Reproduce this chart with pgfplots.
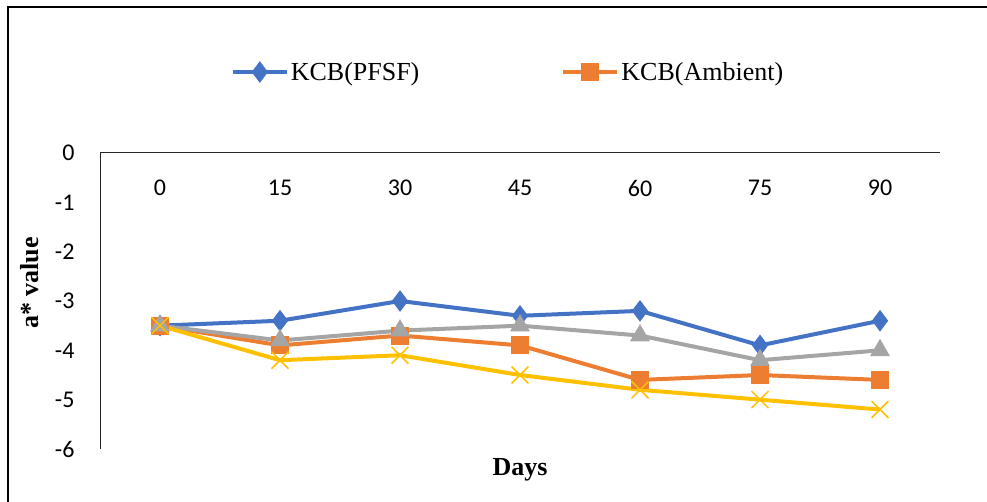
\documentclass[border=0pt]{standalone}
\usepackage{pgfplots}
\pgfplotsset{compat=1.18}
\usepackage{fontspec}
\setmainfont{Liberation Serif}
\newfontfamily\calfont{Carlito}
\definecolor{cblue}{HTML}{4472C4}
\definecolor{corange}{HTML}{ED7D31}
\definecolor{cgrey}{HTML}{A5A5A5}
\definecolor{cyellow}{HTML}{FFC000}
\begin{document}
\begin{tikzpicture}
\useasboundingbox (0pt,0pt) rectangle (987pt,-502pt);
\draw[line width=1.5pt] (8pt,-510pt) -- (8pt,-7pt) -- (995pt,-7pt);
\begin{axis}[
 at={(100pt,-449pt)}, anchor=south west,
 scale only axis, width=840pt, height=296pt,
 xmin=-7.5, xmax=97.5, ymin=-6, ymax=0,
 clip=false,
 axis x line*=top, axis y line*=left,
 xtick={0,15,...,90}, ytick={-6,-5,...,0},
 major tick length=0pt,
 axis line style={line width=1pt, black!85},
 tick label style={font=\calfont\fontsize{24}{28}\selectfont},
 /pgf/number format/assume math mode=true,
 xticklabel style={anchor=center, yshift=-35pt},
 yticklabel style={anchor=east, xshift=-22pt},
 ylabel={a* value},
 ylabel style={at={(axis description cs:-0.0833,0.561)}, anchor=center, font=\fontsize{26}{30}\selectfont\bfseries},
 xlabel={Days},
 xlabel style={at={(axis description cs:0.5,-0.071)}, anchor=center, font=\fontsize{26}{30}\selectfont\bfseries},
 legend columns=2,
 legend style={draw=none, fill=none, at={(rel axis cs:0.4857,1.2736)}, anchor=center,
   font=\fontsize{26}{30}\selectfont, nodes={inner xsep=2pt},
   /tikz/every odd column/.append style={column sep=0pt},
   /tikz/every even column/.append style={column sep=140pt}},
 legend cell align=left,
 legend image code/.code={\draw[mark repeat=2,mark phase=2,#1] plot coordinates {(0pt,0pt) (27pt,0pt) (54pt,0pt)};},
]
\addplot[cblue, line width=4pt, mark=diamond*, mark size=10pt, mark options={solid, line width=1pt}]
 coordinates {(0,-3.5)(15,-3.4)(30,-3.0)(45,-3.3)(60,-3.2)(75,-3.9)(90,-3.4)};
\addlegendentry{KCB(PFSF)}
\addplot[corange, line width=4pt, mark=square*, mark size=8.5pt, mark options={solid, line width=1pt}]
 coordinates {(0,-3.5)(15,-3.9)(30,-3.7)(45,-3.9)(60,-4.6)(75,-4.5)(90,-4.6)};
\addlegendentry{KCB(Ambient)}
\addplot[cgrey, line width=4pt, mark=triangle*, mark size=10.5pt, mark options={solid, line width=1pt}, forget plot]
 coordinates {(0,-3.5)(15,-3.8)(30,-3.6)(45,-3.5)(60,-3.7)(75,-4.2)(90,-4.0)};
\addplot[cyellow, line width=4pt, mark=x, mark size=12pt, mark options={solid, line width=1.5pt}, forget plot]
 coordinates {(0,-3.5)(15,-4.2)(30,-4.1)(45,-4.5)(60,-4.8)(75,-5.0)(90,-5.2)};
\end{axis}
\end{tikzpicture}
\end{document}
